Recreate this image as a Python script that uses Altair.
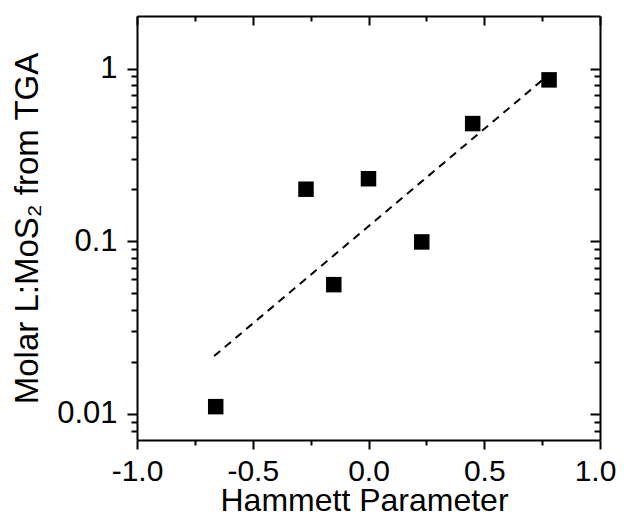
import altair as alt
import pandas as pd

# Data
hammett = [-0.66, -0.27, -0.15, 0.0, 0.23, 0.45, 0.78]
ratio = [0.011, 0.20, 0.056, 0.23, 0.099, 0.48, 0.86]
fit_x = [-0.667, 0.778]
fit_y = [0.0216, 0.92]

x_major = [-1.0, -0.5, 0.0, 0.5, 1.0]
x_minor = [-0.75, -0.25, 0.25, 0.75]
y_major = [0.01, 0.1, 1]
y_minor = [0.008, 0.009, 0.02, 0.03, 0.04, 0.05, 0.06, 0.07, 0.08, 0.09,
           0.2, 0.3, 0.4, 0.5, 0.6, 0.7, 0.8, 0.9]

W, H = 463, 424
FONT = "Liberation Sans"

pts = pd.DataFrame({"h": hammett, "r": ratio})
fit = pd.DataFrame({"h": fit_x, "r": fit_y})

xs = alt.Scale(domain=[-1, 1], nice=False, zero=False)
ys = alt.Scale(type="log", domain=[0.00705, 2.016], nice=False)

tick_style = dict(grid=False, tickColor="black", tickWidth=2,
                  domainColor="black", domainWidth=2, labelFlush=False, labelOverlap=False)
label_expr = "datum.value < 0 ? '-' + format(-datum.value, '.1f') : format(datum.value, '.1f')"

points = alt.Chart(pts).mark_square(size=240, color="black", opacity=1).encode(
    x=alt.X("h:Q", scale=xs, axis=alt.Axis(
        orient="bottom", values=x_major, tickSize=9, labelExpr=label_expr, domain=True,
        labelFont=FONT, labelFontSize=30, labelColor="black", labelPadding=7,
        labelOffset={"condition": {"test": "datum.value == 1", "value": -5}, "value": 0},
        title="Hammett Parameter", titleFont=FONT, titleFontSize=32,
        titleFontWeight="normal", titleColor="black",
        titleBaseline="alphabetic", titleY=70, titleX=227, **tick_style)),
    y=alt.Y("r:Q", scale=ys, axis=alt.Axis(
        orient="left", values=y_major, tickSize=10, format="~g", domain=True,
        labelFont=FONT, labelFontSize=31, labelColor="black", labelPadding=10,
        title="Molar L:MoS\u2082 from TGA", titleFont=FONT, titleFontSize=33,
        titleFontWeight="normal", titleColor="black",
        titleBaseline="alphabetic", titleX=-100, titleY=212, **tick_style)),
)

line = alt.Chart(fit).mark_line(color="black", strokeWidth=2, strokeDash=[8, 6]).encode(
    x=alt.X("h:Q", scale=xs, axis=alt.Axis(
        orient="bottom", values=x_minor, tickSize=5, labels=False, title=None,
        domain=False, **tick_style)),
    y=alt.Y("r:Q", scale=ys, axis=alt.Axis(
        orient="left", values=y_minor, tickSize=6, labels=False, title=None,
        domain=False, **tick_style)),
)

mirror_major = alt.Chart(pts).mark_square(size=1, opacity=0).encode(
    x=alt.X("h:Q", scale=xs, axis=alt.Axis(
        orient="bottom", offset=-H, values=x_major, tickSize=9, labels=False, title=None,
        domain=True, **tick_style)),
    y=alt.Y("r:Q", scale=ys, axis=alt.Axis(
        orient="left", offset=-W, values=y_major, tickSize=10, labels=False, title=None,
        domain=True, **tick_style)),
)

mirror_minor = alt.Chart(fit).mark_line(opacity=0).encode(
    x=alt.X("h:Q", scale=xs, axis=alt.Axis(
        orient="bottom", offset=-H, values=x_minor, tickSize=5, labels=False, title=None,
        domain=False, **tick_style)),
    y=alt.Y("r:Q", scale=ys, axis=alt.Axis(
        orient="left", offset=-W, values=y_minor, tickSize=6, labels=False, title=None,
        domain=False, **tick_style)),
)

chart = alt.layer(line, points, mirror_major, mirror_minor).resolve_axis(
    x="independent", y="independent"
).properties(
    width=W, height=H,
    autosize=alt.AutoSizeParams(type="none"),
    padding={"left": 129, "top": 8, "right": 16, "bottom": 72},
).configure_view(strokeWidth=0).configure(background="white")

chart.save("out.html", embed_options={"renderer": "svg", "actions": False})
